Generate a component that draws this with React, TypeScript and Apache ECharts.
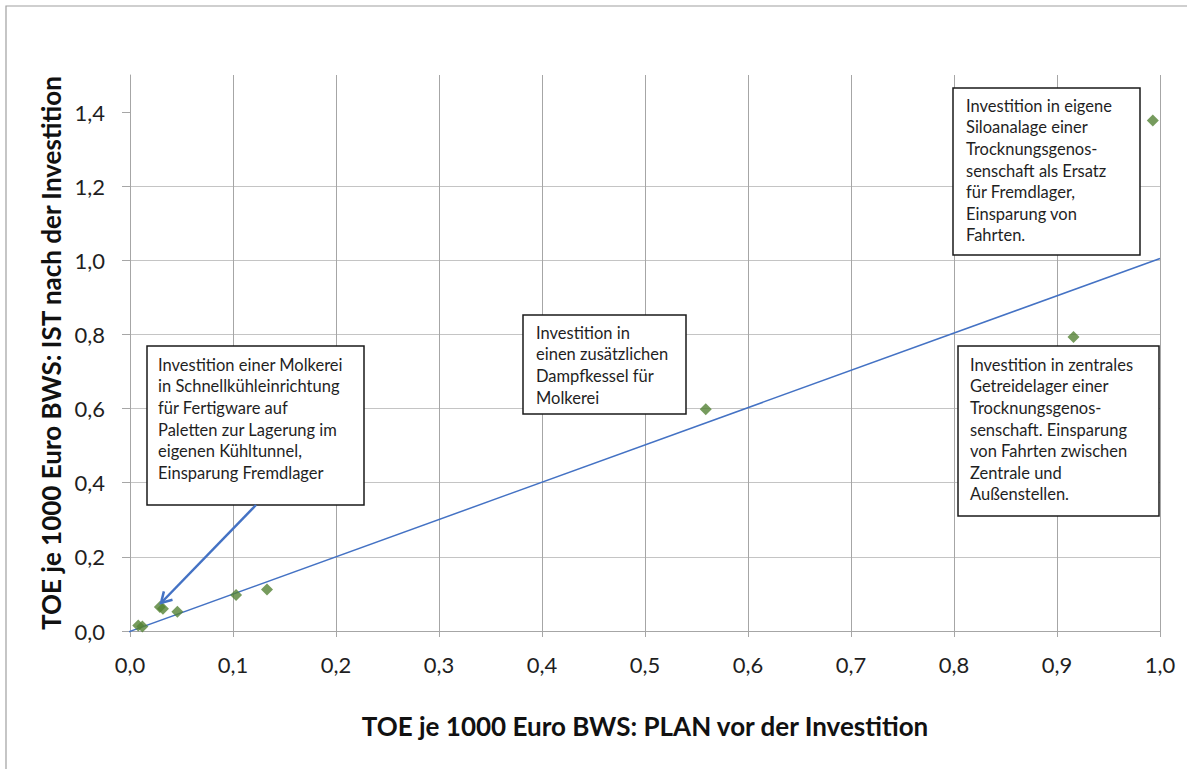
import React, { useEffect, useRef } from "react";
import * as echarts from "echarts";

const planValues = [0.008, 0.012, 0.029, 0.032, 0.046, 0.103, 0.133, 0.559, 0.916, 0.993];
const istValues = [0.015, 0.012, 0.065, 0.060, 0.052, 0.097, 0.112, 0.598, 0.793, 1.377];
const trendX = [-0.003, 1.0];
const trendY = [-0.004, 1.005];
const yTicks = [0, 0.2, 0.4, 0.6, 0.8, 1.0, 1.2, 1.4];

const xTitle = "TOE je 1000 Euro BWS: PLAN vor der Investition";
const yTitle = "TOE je 1000 Euro BWS: IST nach der Investition";

const note1 = [
  "Investition einer Molkerei",
  "in Schnellkühleinrichtung",
  "für Fertigware auf",
  "Paletten zur Lagerung im",
  "eigenen Kühltunnel,",
  "Einsparung Fremdlager",
];
const note2 = ["Investition in", "einen zusätzlichen", "Dampfkessel für", "Molkerei"];
const note3 = [
  "Investition in eigene",
  "Siloanalage einer",
  "Trocknungsgenos-",
  "senschaft als Ersatz",
  "für Fremdlager,",
  "Einsparung von",
  "Fahrten.",
];
const note4 = [
  "Investition in zentrales",
  "Getreidelager einer",
  "Trocknungsgenos-",
  "senschaft. Einsparung",
  "von Fahrten zwischen",
  "Zentrale und",
  "Außenstellen.",
];

const FONT = "Lato, 'DejaVu Sans', sans-serif";

function noteBox(x: number, y: number, w: number, h: number, tx: number, ty: number, lines: string[]) {
  return [
    {
      type: "rect",
      z: 100,
      shape: { x, y, width: w, height: h },
      style: { fill: "#ffffff", stroke: "#1a1a1a", lineWidth: 1.5 },
    },
    {
      type: "text",
      z: 101,
      x: tx,
      y: ty,
      style: {
        text: lines.join("\n"),
        font: `16.5px ${FONT}`,
        fill: "#1f1f1f",
        lineHeight: 21.6,
        verticalAlign: "top",
        align: "left",
      },
    },
  ];
}

const fmt = (v: number) => v.toFixed(1).replace(".", ",");

export default function App() {
  const ref = useRef<HTMLDivElement>(null);
  useEffect(() => {
    if (!ref.current) return;
    const chart = echarts.init(ref.current, null, { renderer: "svg" });
    const tip = [161, 603];
    chart.setOption({
      animation: false,
      backgroundColor: "#ffffff",
      grid: { left: 130, right: 27, top: 75, bottom: 138, containLabel: false },
      xAxis: {
        type: "value",
        min: 0,
        max: 1,
        interval: 0.1,
        name: xTitle,
        nameLocation: "middle",
        nameGap: 82,
        nameTextStyle: { fontFamily: FONT, fontSize: 26, fontWeight: "bold", color: "#111111" },
        axisLine: { show: true, lineStyle: { color: "#a6a6a6", width: 1 } },
        axisTick: { show: true, length: 6, lineStyle: { color: "#a6a6a6" } },
        axisLabel: { formatter: fmt, fontFamily: FONT, fontSize: 22, color: "#1f1f1f", margin: 22 },
        splitLine: { show: true, lineStyle: { color: "#a6a6a6", width: 1 } },
      },
      yAxis: {
        type: "value",
        min: 0,
        max: 1.5,
        interval: 0.2,
        name: yTitle,
        nameLocation: "middle",
        nameGap: 66,
        nameTextStyle: { fontFamily: FONT, fontSize: 26, fontWeight: "bold", color: "#111111" },
        axisLine: { show: true, lineStyle: { color: "#a6a6a6", width: 1 } },
        axisTick: { show: true, length: 8, lineStyle: { color: "#a6a6a6" }, customValues: yTicks },
        axisLabel: {
          formatter: fmt,
          fontFamily: FONT,
          fontSize: 22,
          color: "#1f1f1f",
          margin: 25,
          customValues: yTicks,
        },
        splitLine: { show: true, showMaxLine: false, lineStyle: { color: "#c4c4c4", width: 1 } },
      },
      series: [
        {
          type: "line",
          data: trendX.map((x, i) => [x, trendY[i]]),
          symbol: "none",
          clip: false,
          lineStyle: { color: "#4472c4", width: 1.5 },
          z: 2,
        },
        {
          type: "scatter",
          data: planValues.map((x, i) => [x, istValues[i]]),
          symbol: "diamond",
          symbolSize: 12,
          itemStyle: { color: "#548235" },
          z: 3,
        },
      ],
      graphic: [
        {
          type: "rect",
          shape: { x: 6, y: 6, width: 1400, height: 1000 },
          style: { fill: "none", stroke: "#a0a0a0", lineWidth: 1.2 },
          silent: true,
          z: 0,
        },
        ...noteBox(147, 346, 217, 159, 158, 354, note1),
        ...noteBox(523, 315, 163, 99, 536, 322, note2),
        ...noteBox(953, 88, 187, 167, 966, 95, note3),
        ...noteBox(958, 346, 201, 170, 970, 354, note4),
        {
          type: "line",
          z: 102,
          shape: { x1: 256, y1: 505, x2: tip[0], y2: tip[1] },
          style: { stroke: "#4472c4", lineWidth: 2.5 },
        },
        {
          type: "polyline",
          z: 102,
          shape: { points: [[172.5, 599.7], tip, [163.9, 591.4]] },
          style: { stroke: "#4472c4", lineWidth: 2.5, fill: "none" },
        },
      ],
    });
    return () => chart.dispose();
  }, []);
  return (
    <div
      ref={ref}
      style={{ position: "fixed", left: 0, top: 0, width: 1187, height: 769, background: "#fff" }}
    />
  );
}
